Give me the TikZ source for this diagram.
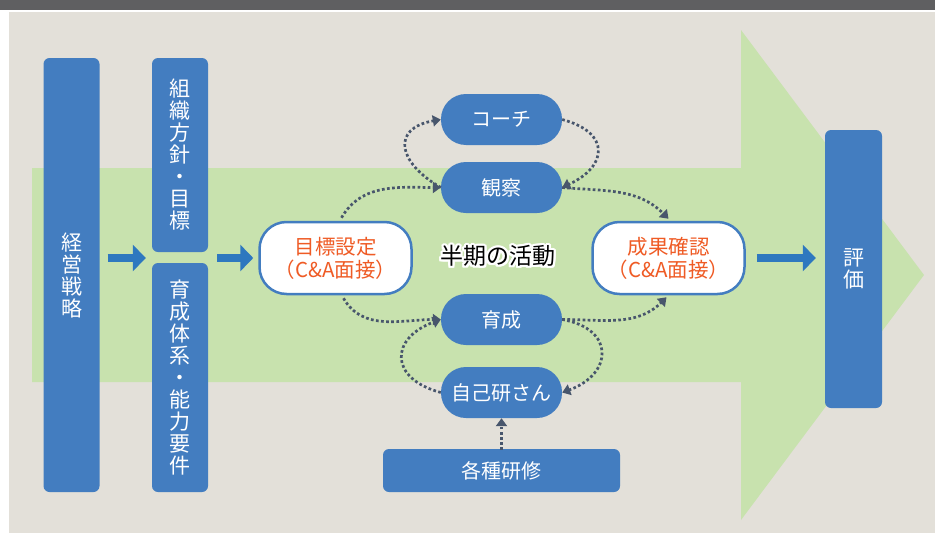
\documentclass[tikz,border=0pt]{standalone}
\usepackage{fontspec}
\setmainfont{Noto Sans CJK JP}
\usepackage{contour}
\contourlength{2.2pt}
\usetikzlibrary{arrows.meta,calc}
\definecolor{barc}{HTML}{5F5F61}
\definecolor{bgc}{HTML}{E3E0D9}
\definecolor{grn}{HTML}{C8E2AE}
\definecolor{boxblue}{HTML}{437DC0}
\definecolor{arrblue}{HTML}{2E78BF}
\definecolor{dotc}{HTML}{48566C}
\definecolor{org}{HTML}{EF5B25}
\begin{document}
\begin{tikzpicture}[x=1pt,y=1pt,
 tallbox/.style={fill=boxblue, rounded corners=6pt, minimum width=56pt, text=white, align=center, font=\fontsize{21}{22}\selectfont, inner sep=0pt},
 pill/.style={fill=boxblue, rounded corners=25pt, minimum width=121pt, minimum height=51pt, text=white, font=\fontsize{20}{24}\selectfont, inner sep=0pt},
 cabox/.style={fill=white, draw=boxblue, line width=2.5pt, rounded corners=27pt, minimum width=152pt, minimum height=72pt, text=org, align=center, font=\fontsize{20.5}{23}\selectfont, inner sep=0pt},
 bigarrow/.style={draw=arrblue, line width=8pt, -{Triangle[length=13pt,width=26pt]}},
 dots/.style={draw=dotc, line width=2.7pt, dash pattern=on 2.7pt off 2.4pt, -{Triangle[length=8pt,width=11pt]}},
]
\useasboundingbox (0,0) rectangle (935,-533);
\fill[barc] (0,0) rectangle (935,-9.5);
\fill[bgc] (9,-12) rectangle (935,-533);
\fill[grn] (32,-168) -- (741,-168) -- (741,-30) -- (924,-275) -- (741,-520) -- (741,-382) -- (32,-382) -- cycle;

\node[tallbox, minimum height=434pt] (keiei) at (71.5,-275) {経\\営\\戦\\略};
\node[tallbox, minimum height=194pt] (soshiki) at (180,-155) {組\\織\\方\\針\\・\\目\\標};
\node[tallbox, minimum height=229pt] (taikei) at (180,-377.5) {育\\成\\体\\系\\・\\能\\力\\要\\件};
\node[tallbox, minimum height=278pt, minimum width=57pt] (hyouka) at (853.5,-269) {評\\価};

\node[cabox] (goal) at (335.5,-258) {目標設定\\（C\&A面接）};
\node[cabox] (result) at (668.5,-258) {成果確認\\（C\&A面接）};

\node[pill] (coach) at (501.5,-119.5) {コーチ};
\node[pill] (obs) at (501.5,-187.5) {観察};
\node[pill] (ikusei) at (501.5,-319.5) {育成};
\node[pill] (jiko) at (501.5,-392.5) {自己研さん};
\node[fill=boxblue, rounded corners=6pt, minimum width=237pt, minimum height=43pt, text=white, font=\fontsize{20}{24}\selectfont, inner sep=0pt] (kenshu) at (501.5,-470.5) {各種研修};

\node[font=\fontsize{23}{26}\selectfont, inner sep=0pt] (katsudo) at (498,-257) {\contour{white}{半期の活動}};

\draw[bigarrow] ($(keiei.east |- goal.center)+(8,0)$) -- ($(soshiki.west |- goal.center)+(-6,0)$);
\draw[bigarrow] ($(soshiki.east |- goal.center)+(9,0)$) -- ($(goal.west)+(-5,0)$);
\draw[bigarrow] ($(result.east)+(11,0)$) -- ($(hyouka.west |- result.center)+(-9,0)$);

\draw[dots] ($(goal.north)+(6,3)$) to[out=60,in=180] (obs.west);
\draw[dots] (obs.west) to[out=150,in=190,looseness=1.9] (coach.west);
\draw[dots] (coach.east) to[out=-15,in=25,looseness=1.9] (obs.east);
\draw[dots] (obs.east) to[out=-5,in=135] ($(result.north)+(0,2)$);
\draw[dots] ($(goal.south)+(8,-3)$) to[out=-60,in=180] (ikusei.west);
\draw[dots] (jiko.west) to[out=165,in=200,looseness=1.9] (ikusei.west);
\draw[dots] (ikusei.east) to[out=-10,in=20,looseness=1.9] (jiko.east);
\draw[dots] (ikusei.east) to[out=0,in=225] ($(result.south)+(-2,-2)$);
\draw[dots] ($(kenshu.north)+(0,-1)$) -- (jiko.south);
\end{tikzpicture}
\end{document}
